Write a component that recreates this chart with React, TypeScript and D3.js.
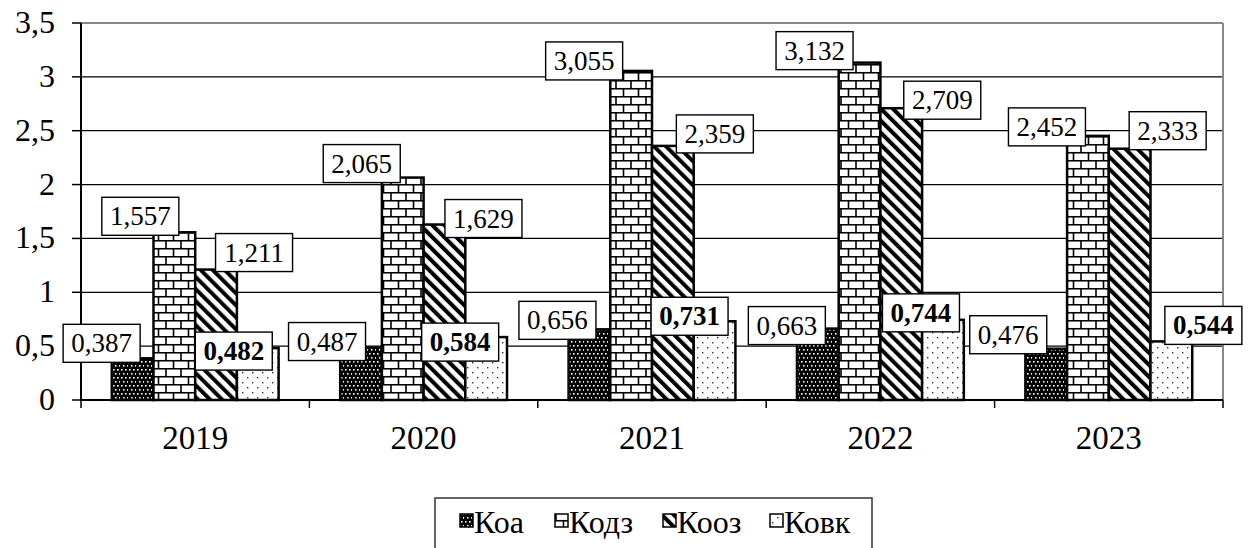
import React from "react";
import * as d3 from "d3";

// Coefficients by year
const years = ["2019", "2020", "2021", "2022", "2023"];
const seriesNames = ["Коа", "Кодз", "Кооз", "Ковк"];
const koa = [0.387, 0.487, 0.656, 0.663, 0.476];
const kodz = [1.557, 2.065, 3.055, 3.132, 2.452];
const kooz = [1.211, 1.629, 2.359, 2.709, 2.333];
const kovk = [0.482, 0.584, 0.731, 0.744, 0.544];
const yTicks = [0, 0.5, 1, 1.5, 2, 2.5, 3, 3.5];

// Hand-placed label nudges (box centre relative to bar top centre)
const nudgeKoa = [[-31, -15], [-34, -6], [-32, -9], [-31, -3], [-38, -14]];
const nudgeKodz = [[-34, -16], [-41, -14], [-47, -10], [-45, -12], [-41, -9]];
const nudgeKooz = [[38, -17], [39, -6], [42, -12], [41, -8], [38, -18]];
const nudgeKovk = [[-24, 3], [-26, 5], [-25, -5], [-22, -7], [32, -16]];

const seriesValues = [koa, kodz, kooz, kovk];
const seriesNudges = [nudgeKoa, nudgeKodz, nudgeKooz, nudgeKovk];
const boldLabels = [false, false, false, true];
const patternIds = ["pat-koa", "pat-kodz", "pat-kooz", "pat-kovk"];

const W = 1251;
const H = 548;
const FONT = "'Liberation Serif', 'Times New Roman', serif";

const fmt = (v: number) => d3.format(".3f")(v).replace(".", ",");
const fmtTick = (v: number) => String(v).replace(".", ",");

export default function App() {
  const x = d3.scaleBand<string>().domain(years).range([81, 1223]).paddingInner(0).paddingOuter(0);
  const xs = d3
    .scaleBand<string>()
    .domain(seriesNames)
    .range([0, x.bandwidth()])
    .paddingInner(0)
    .paddingOuter(0.738);
  const y = d3.scaleLinear().domain([0, 3.5]).range([400, 23]);

  const boxW = 77;
  const boxH = 38;

  const legendItems = [
    { name: seriesNames[0], sx: 460, pat: patternIds[0] },
    { name: seriesNames[1], sx: 555, pat: patternIds[1] },
    { name: seriesNames[2], sx: 663, pat: patternIds[2] },
    { name: seriesNames[3], sx: 770, pat: patternIds[3] },
  ];

  return (
    <svg
      width={W}
      height={H}
      viewBox={`0 0 ${W} ${H}`}
      style={{ position: "absolute", left: 0, top: 0, background: "#fff" }}
      fontFamily={FONT}
    >
      <defs>
        {/* black with white dots */}
        <pattern id="pat-koa" width={8} height={8} patternUnits="userSpaceOnUse">
          <rect width={8} height={8} fill="#000" />
          <rect x={1} y={1} width={1.6} height={1.6} fill="#fff" />
          <rect x={5} y={1} width={1.6} height={1.6} fill="#fff" />
          <rect x={3} y={5} width={1.6} height={1.6} fill="#fff" />
          <rect x={7} y={5} width={1.6} height={1.6} fill="#fff" />
        </pattern>
        {/* horizontal brick */}
        <pattern id="pat-kodz" width={15} height={16} patternUnits="userSpaceOnUse">
          <rect width={15} height={16} fill="#fff" />
          <line x1={0} x2={15} y1={0.75} y2={0.75} stroke="#000" strokeWidth={1.6} />
          <line x1={0} x2={15} y1={8.75} y2={8.75} stroke="#000" strokeWidth={1.6} />
          <line x1={1} x2={1} y1={0} y2={8} stroke="#000" strokeWidth={1.6} />
          <line x1={8.5} x2={8.5} y1={8} y2={16} stroke="#000" strokeWidth={1.6} />
        </pattern>
        {/* wide downward diagonal */}
        <pattern
          id="pat-kooz"
          width={8.5}
          height={8.5}
          patternUnits="userSpaceOnUse"
          patternTransform="rotate(-45)"
        >
          <rect width={8.5} height={8.5} fill="#fff" />
          <rect x={0} y={0} width={4} height={8.5} fill="#000" />
        </pattern>
        {/* sparse dots */}
        <pattern id="pat-kovk" width={10} height={10} patternUnits="userSpaceOnUse">
          <rect width={10} height={10} fill="#fff" />
          <rect x={2} y={2} width={1.4} height={1.4} fill="#333" />
          <rect x={7} y={7} width={1.4} height={1.4} fill="#333" />
        </pattern>
      </defs>

      {/* gridlines */}
      {yTicks.map((t) => (
        <line
          key={`g${t}`}
          x1={81}
          x2={1223}
          y1={y(t)}
          y2={y(t)}
          stroke={t === 3.5 ? "#888" : "#000"}
          strokeWidth={t === 3.5 ? 2 : 1.3}
        />
      ))}
      <line x1={1223} x2={1223} y1={y(3.5)} y2={y(0)} stroke="#888" strokeWidth={2} />

      {/* bars */}
      {seriesValues.map((vals, si) =>
        vals.map((v, yi) => (
          <rect
            key={`b${si}-${yi}`}
            x={(x(years[yi]) as number) + (xs(seriesNames[si]) as number)}
            y={y(v)}
            width={xs.bandwidth()}
            height={y(0) - y(v)}
            fill={`url(#${patternIds[si]})`}
            stroke="#000"
            strokeWidth={2.5}
          />
        ))
      )}

      {/* axes */}
      <line x1={81} x2={81} y1={y(3.5)} y2={y(0)} stroke="#000" strokeWidth={2} />
      {yTicks.map((t) => (
        <g key={`t${t}`}>
          <line x1={72} x2={81} y1={y(t)} y2={y(t)} stroke="#000" strokeWidth={1.5} />
          <text x={55} y={y(t) + 10} textAnchor="end" fontSize={32} fill="#000">
            {fmtTick(t)}
          </text>
        </g>
      ))}
      <line x1={81} x2={1223} y1={y(0)} y2={y(0)} stroke="#000" strokeWidth={2} />
      {[...years.map((yr) => x(yr) as number), 1223].map((px, i) => (
        <line key={`xt${i}`} x1={px} x2={px} y1={y(0)} y2={y(0) + 8} stroke="#000" strokeWidth={1.5} />
      ))}
      {years.map((yr) => (
        <text
          key={`xl${yr}`}
          x={(x(yr) as number) + x.bandwidth() / 2}
          y={449}
          textAnchor="middle"
          fontSize={33}
          fill="#000"
        >
          {yr}
        </text>
      ))}

      {/* data labels */}
      {seriesValues.map((vals, si) =>
        vals.map((v, yi) => {
          const cx =
            (x(years[yi]) as number) + (xs(seriesNames[si]) as number) + xs.bandwidth() / 2 + seriesNudges[si][yi][0];
          const cy = y(v) + seriesNudges[si][yi][1];
          return (
            <g key={`l${si}-${yi}`}>
              <rect
                x={cx - boxW / 2}
                y={cy - boxH / 2}
                width={boxW}
                height={boxH}
                fill="#fff"
                stroke="#000"
                strokeWidth={1.4}
              />
              <text
                x={cx}
                y={cy + 9}
                textAnchor="middle"
                fontSize={27}
                fontWeight={boldLabels[si] ? "bold" : "normal"}
                fill="#000"
              >
                {fmt(v)}
              </text>
            </g>
          );
        })
      )}

      {/* legend */}
      <rect x={435} y={498} width={437} height={70} fill="#fff" stroke="#333" strokeWidth={1.5} />
      {legendItems.map((it) => (
        <g key={`lg${it.name}`}>
          <rect x={it.sx} y={514} width={13} height={13} fill={`url(#${it.pat})`} stroke="#000" strokeWidth={1.5} />
          <text x={it.sx + 14} y={533} fontSize={32} fill="#000">
            {it.name}
          </text>
        </g>
      ))}
    </svg>
  );
}
